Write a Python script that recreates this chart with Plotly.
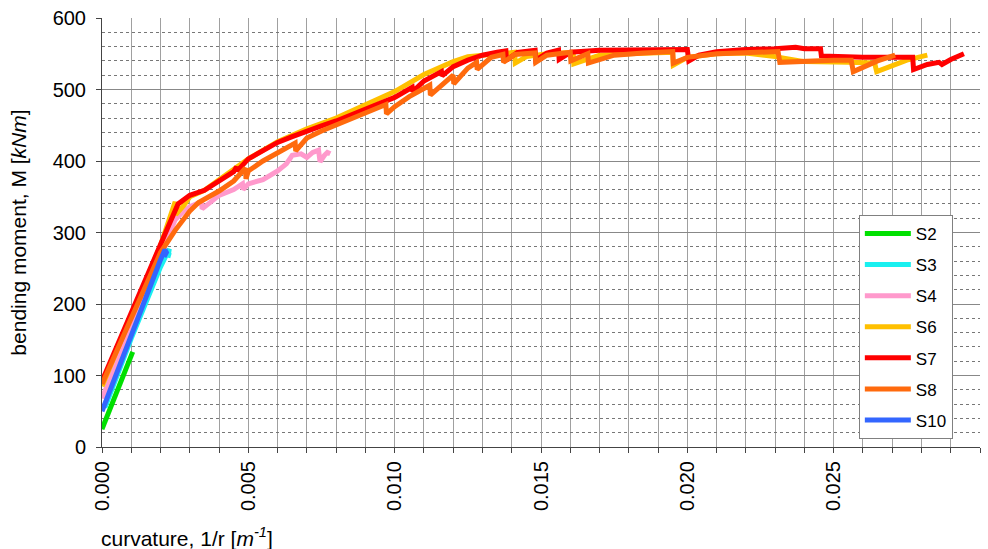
import plotly.graph_objects as go

# ---------------- data (curvature 1/r [1/m], moment M [kNm]) ----------------
s2_k = [0.0000, 0.0005, 0.0010, 0.00105]
s2_m = [25, 78, 128, 133]

s3_k = [0.0001, 0.0010, 0.0020, 0.0022, 0.0023, 0.00225, 0.0023]
s3_m = [55, 152, 252, 268, 277, 265, 272]

s4_k = [0.0000, 0.0010, 0.0020, 0.0023, 0.0025, 0.0028, 0.0030, 0.0034, 0.00342, 0.0040,
        0.0045, 0.0048, 0.00482, 0.0050, 0.0055, 0.0060, 0.0063, 0.0065, 0.0068, 0.0070,
        0.0072, 0.0074, 0.00745, 0.0076, 0.0077, 0.0078]
s4_m = [68, 168, 265, 295, 318, 330, 336, 343, 333, 352,
        360, 368, 360, 368, 374, 386, 396, 408, 410, 405,
        412, 415, 399, 408, 412, 410]

s6_k = [0.0000, 0.0010, 0.0020, 0.0025, 0.00252, 0.0028, 0.0030, 0.0035, 0.0040, 0.0050,
        0.0060, 0.0070, 0.0080, 0.0090, 0.0100, 0.0110, 0.0120, 0.0125, 0.0130, 0.0135,
        0.0141, 0.01412, 0.0145, 0.0152, 0.0161, 0.01612, 0.0170, 0.0180, 0.0195, 0.01952,
        0.0200, 0.0210, 0.0220, 0.0230, 0.0240, 0.0255, 0.0264, 0.02647, 0.0275, 0.0282]
s6_m = [85, 183, 282, 343, 325, 338, 350, 359, 373, 403,
        427, 445, 460, 478, 497, 521, 539, 546, 548, 550,
        552, 537, 546, 550, 552, 536, 548, 550, 552, 534,
        545, 550, 551, 546, 539, 538, 537, 525, 541, 548]

s7_k = [0.0000, 0.0010, 0.0020, 0.0023, 0.0026, 0.0030, 0.0035, 0.0040, 0.0045, 0.0046,
        0.00462, 0.0050, 0.0055, 0.0060, 0.0065, 0.0070, 0.0075, 0.0080, 0.0085, 0.0090,
        0.0095, 0.0100, 0.0106, 0.01062, 0.0110, 0.0116, 0.01162, 0.0120, 0.0125, 0.0130,
        0.0135, 0.0138, 0.01382, 0.0142, 0.0148, 0.01482, 0.0152, 0.0156, 0.01562, 0.0160,
        0.0170, 0.0180, 0.0190, 0.0200, 0.02005, 0.0204, 0.0210, 0.0220, 0.0230, 0.0237,
        0.0240, 0.02455, 0.02458, 0.0250, 0.0260, 0.0270, 0.0277, 0.02773, 0.0282, 0.0286,
        0.0287, 0.0290, 0.02945]
s7_m = [92, 188, 287, 312, 340, 352, 359, 371, 385, 392,
        386, 403, 415, 426, 434, 442, 449, 456, 464, 472,
        480, 489, 503, 497, 512, 525, 519, 532, 541, 548,
        552, 554, 541, 552, 555, 541, 551, 555, 542, 552,
        555, 555, 556, 556, 540, 548, 553, 556, 557, 559,
        557, 557, 547, 546, 545, 545, 545, 528, 535, 538,
        535, 542, 550]

s8_k = [0.0000, 0.0010, 0.0020, 0.0025, 0.0030, 0.0033, 0.0040, 0.0045, 0.0049, 0.00492,
        0.0050, 0.0055, 0.0060, 0.0066, 0.00662, 0.0070, 0.0075, 0.0080, 0.0085, 0.0090,
        0.0097, 0.00972, 0.0100, 0.0105, 0.0112, 0.01122, 0.0115, 0.0120, 0.01202, 0.0125,
        0.0128, 0.01282, 0.0133, 0.0137, 0.01372, 0.0141, 0.0148, 0.01482, 0.0152, 0.0160,
        0.01602, 0.0166, 0.01662, 0.0175, 0.0185, 0.0195, 0.01952, 0.0200, 0.0210, 0.0220,
        0.0231, 0.02316, 0.0240, 0.0250, 0.0256, 0.02567, 0.0265, 0.0271]
s8_m = [88, 180, 272, 303, 330, 342, 358, 372, 390, 375,
        386, 400, 412, 425, 414, 432, 442, 450, 458, 466,
        479, 466, 476, 490, 506, 492, 502, 520, 508, 530,
        538, 528, 545, 549, 538, 549, 551, 538, 548, 552,
        540, 550, 537, 548, 551, 553, 537, 545, 550, 552,
        553, 538, 540, 541, 541, 525, 540, 548]

s10_k = [0.0000, 0.0010, 0.0020, 0.00215, 0.0022, 0.00212]
s10_m = [50, 158, 262, 276, 272, 266]

series = [
    ("S2", s2_k, s2_m, "#00E000"),
    ("S3", s3_k, s3_m, "#19F0F0"),
    ("S4", s4_k, s4_m, "#FF99CC"),
    ("S6", s6_k, s6_m, "#FFC000"),
    ("S7", s7_k, s7_m, "#FF0000"),
    ("S8", s8_k, s8_m, "#FF6A0D"),
    ("S10", s10_k, s10_m, "#3366FF"),
]

x_ticks = [0.000, 0.005, 0.010, 0.015, 0.020, 0.025, 0.030]
y_ticks = [0, 100, 200, 300, 400, 500, 600]

FONT = "Liberation Sans, Arial, sans-serif"

fig = go.Figure()
for i, (name, k, m, col) in enumerate(series):
    fig.add_trace(go.Scatter(
        x=k, y=m, name=name, mode="lines",
        line=dict(color=col, width=5),
        legendgroup=name,
    ))

fig.update_layout(
    width=988, height=549,
    margin=dict(l=102, r=8, t=18, b=102, autoexpand=False),
    paper_bgcolor="white", plot_bgcolor="white",
    font=dict(family=FONT, size=20, color="black"),
    showlegend=True,
    legend=dict(
        x=0.862, y=0.541, xanchor="left", yanchor="top",
        bgcolor="white", bordercolor="#808080", borderwidth=1,
        font=dict(family=FONT, size=17, color="black"),
        traceorder="grouped", tracegroupgap=6,
        itemwidth=46,
    ),
)

fig.update_xaxes(
    range=[0, 0.030], tickvals=x_ticks, ticktext=[f"{v:.3f}" for v in x_ticks],
    tickangle=-90, tickfont=dict(size=20), automargin=False,
    showgrid=True, gridcolor="#a0a0a0", gridwidth=1,
    showline=True, linecolor="#444444", linewidth=1,
    ticks="outside", ticklen=5, tickcolor="#444444",
    minor=dict(dtick=0.001, showgrid=True, gridcolor="#a0a0a0", gridwidth=1, griddash="solid",
               ticks="outside", ticklen=5, tickcolor="#444444"),
    zeroline=False,
)
fig.update_yaxes(
    range=[0, 600], tickvals=y_ticks, automargin=False,
    tickfont=dict(size=20), ticklabelstandoff=6,
    showgrid=True, gridcolor="#888888", gridwidth=1,
    showline=True, linecolor="#444444", linewidth=1,
    ticks="outside", ticklen=5, tickcolor="#444444",
    minor=dict(dtick=20, showgrid=True, gridcolor="#777777", gridwidth=1, griddash="dot"),
    zeroline=False,
    title=dict(text="bending moment, M [<i>kNm</i>]", font=dict(size=21), standoff=20),
)

fig.add_annotation(
    xref="paper", yref="paper", x=-0.003, y=-0.21, xanchor="left", yanchor="middle",
    text="curvature, 1/r [<i>m<sup>-1</sup></i>]", showarrow=False,
    font=dict(family=FONT, size=21, color="black"),
)

fig.write_html(
    "out.html",
    config={"displayModeBar": False},
    post_script="document.body.style.margin='0';document.body.style.overflow='hidden';",
)
